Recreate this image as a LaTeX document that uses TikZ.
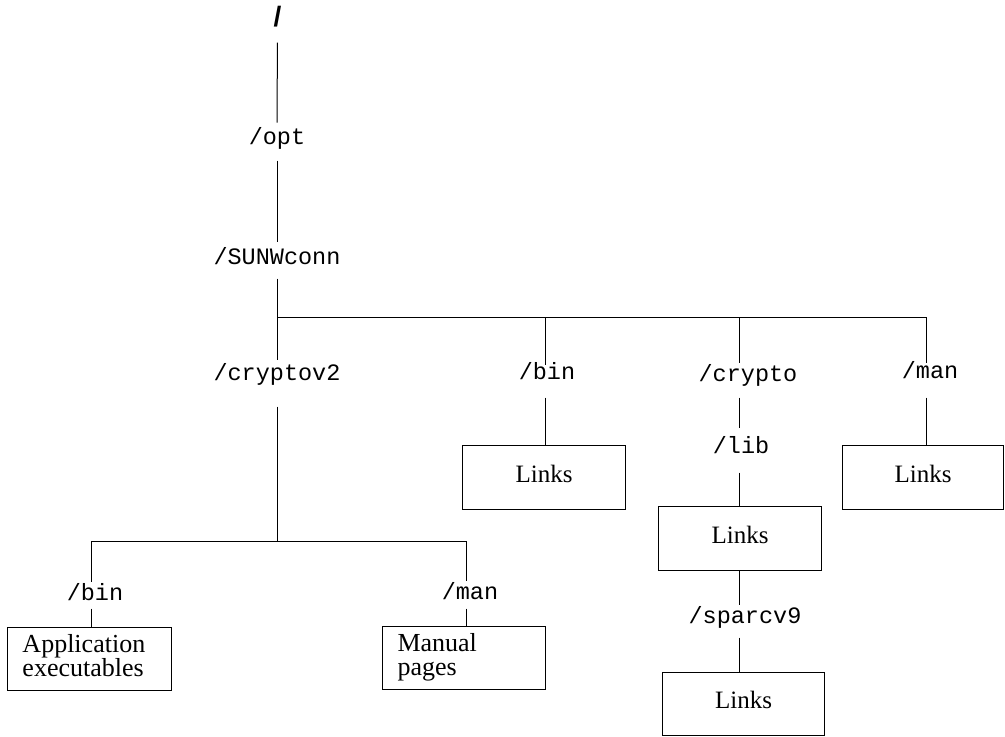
\documentclass[tikz,border=0pt]{standalone}
\usepackage{fontspec}
\setmainfont{Liberation Serif}
\newfontfamily\monof{Liberation Mono}
\newfontfamily\sansf{Liberation Sans}
\begin{document}
\begin{tikzpicture}[x=1pt,y=-1pt,line width=1pt,
  lbl/.style={inner sep=0pt,text height=12pt,text depth=3pt,anchor=center,
    font=\monof\fontsize{23.5}{28}\selectfont},
  box/.style={draw,inner sep=0pt,anchor=north west,
    font=\fontsize{25}{24}\selectfont},
  linkbox/.style={box,align=center,text height=17pt,text depth=8pt},
  txtbox/.style={box,align=left,inner xsep=15pt,font=\fontsize{26}{24}\selectfont}
]
\path[use as bounding box] (0,0) rectangle (1005,737);

% column coordinates
\coordinate (colA) at (277,0);
\coordinate (colB) at (545,0);
\coordinate (colC) at (739,0);
\coordinate (colD) at (926,0);
\coordinate (colE) at (91,0);
\coordinate (colF) at (466,0);

% bars
\coordinate (b1) at (277,317);
\coordinate (b4) at (926,317);
\coordinate (c1) at (91,541);
\coordinate (c2) at (466,541);

% labels
\node[inner sep=0pt,text height=21pt,text depth=0pt,font=\sansf\bfseries\fontsize{28}{30}\selectfont] (root) at (277.5,16) {/};
\node[lbl] (opt) at (277,140) {/opt};
\node[lbl] (sunw) at (277,260) {/SUNWconn};
\node[lbl] (cryptov) at (277,376) {/cryptov2};
\node[lbl] (bin1) at (547,375) {/bin};
\node[lbl] (crypto) at (748,377) {/crypto};
\node[lbl] (man1) at (930,374) {/man};
\node[lbl] (lib) at (741,449) {/lib};
\node[lbl] (sparc) at (745,619) {/sparcv9};
\node[lbl] (bin2) at (95,596) {/bin};
\node[lbl] (man2) at (470,595) {/man};

% boxes
\node[linkbox,minimum width=163pt,minimum height=64pt] (links1) at (462,445) {Links};
\node[linkbox,minimum width=161pt,minimum height=64pt] (links2) at (842,445) {Links};
\node[linkbox,minimum width=163pt,minimum height=64pt] (links3) at (658,506) {Links};
\node[linkbox,minimum width=162pt,minimum height=63pt] (links4) at (662,672) {Links};
\node[txtbox,text width=134pt,minimum height=63pt] (app) at (7,627) {Application\\executables\rule[-8pt]{0pt}{0pt}};
\node[txtbox,text width=133pt,minimum height=63pt] (manp) at (382,626) {Manual\\pages\rule[-8pt]{0pt}{0pt}};

% connectors
\draw[shorten <=15.5pt,shorten >=9.5pt] (root) -- (opt);
\draw[shorten <=12.5pt,shorten >=10.5pt] (opt) -- (sunw);
\draw[shorten <=10.5pt] (sunw) -- (b1);
\draw (b1) -- (b4);
\draw[shorten >=8.5pt] (b1) -- (cryptov);
\draw[shorten <=22.5pt] (cryptov) -- (colA |- c1);
\draw (c1) -- (c2);

\draw[shorten >=2.5pt] (colB |- b1) -- (colB |- bin1.north);
\draw[shorten <=14.5pt] (colB |- bin1.south) -- (colB |- links1.north);

\draw[shorten >=6.5pt] (colC |- b1) -- (colC |- crypto.north);
\draw[shorten <=12.5pt,shorten >=13.5pt] (colC |- crypto.south) -- (colC |- lib.north);
\draw[shorten <=15.5pt] (colC |- lib.south) -- (colC |- links3.north);
\draw[shorten >=6.5pt] (colC |- links3.south) -- (colC |- sparc.north);
\draw[shorten <=10.5pt] (colC |- sparc.south) -- (colC |- links4.north);

\draw[shorten >=3.5pt] (b4) -- (colD |- man1.north);
\draw[shorten <=15.5pt] (colD |- man1.south) -- (colD |- links2.north);

\draw[shorten >=6.5pt] (c1) -- (colE |- bin2.north);
\draw[shorten <=4.5pt] (colE |- bin2.south) -- (colE |- app.north);
\draw[shorten >=6.5pt] (c2) -- (colF |- man2.north);
\draw[shorten <=5.5pt] (colF |- man2.south) -- (colF |- manp.north);
\end{tikzpicture}
\end{document}
